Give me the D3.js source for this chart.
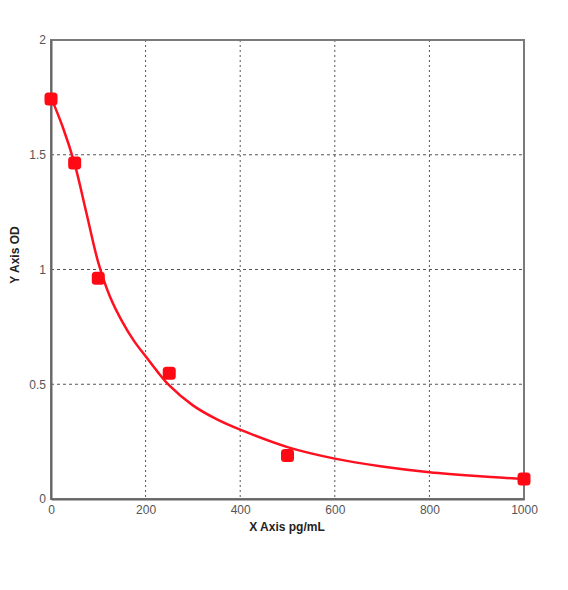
<!DOCTYPE html>
<html><head><meta charset="utf-8">
<script src="https://cdn.jsdelivr.net/npm/d3@7"></script>
<style>body{margin:0;background:#fff}svg{display:block}</style>
</head><body>
<script>
const xTicks = [0, 200, 400, 600, 800, 1000];
const yTicks = [0, 0.5, 1, 1.5, 2];
const pointX = [0, 50, 100, 250, 500, 1000];
const pointY = [1.743, 1.464, 0.962, 0.548, 0.19, 0.087];
const curveX = [0, 25, 50, 75, 100, 125, 150, 175, 200, 225, 250, 300, 350, 400, 500, 600, 700, 800, 900, 1000];
const curveY = [1.75, 1.62, 1.46, 1.245, 1.03, 0.88, 0.775, 0.69, 0.622, 0.555, 0.495, 0.408, 0.348, 0.302, 0.226, 0.176, 0.142, 0.117, 0.100, 0.087];

const W = 568, H = 590;
const m = {l: 51, r: 524, t: 40, b: 499};
const svg = d3.select("body").append("svg").attr("width", W).attr("height", H);
const x = d3.scaleLinear().domain([0, 1000]).range([m.l, m.r]);
const y = d3.scaleLinear().domain([0, 2]).range([m.b, m.t]);

// grid
svg.append("g").selectAll("line").data(xTicks.slice(1, -1)).join("line")
  .attr("x1", d => x(d)).attr("x2", d => x(d)).attr("y1", m.t).attr("y2", m.b)
  .attr("stroke", "#555").attr("stroke-width", 1).attr("stroke-dasharray", "2,3");
svg.append("g").selectAll("line").data(yTicks.slice(1, -1)).join("line")
  .attr("y1", d => y(d)).attr("y2", d => y(d)).attr("x1", m.l).attr("x2", m.r)
  .attr("stroke", "#555").attr("stroke-width", 1).attr("stroke-dasharray", "3,3");

// frame
svg.append("rect").attr("x", m.l).attr("y", m.t).attr("width", m.r - m.l).attr("height", m.b - m.t)
  .attr("fill", "none").attr("stroke", "#7a7a7a").attr("stroke-width", 2);

// axes
const xAxis = svg.append("g").attr("transform", `translate(0,${m.b})`)
  .call(d3.axisBottom(x).tickValues(xTicks).tickSize(0).tickPadding(6).tickFormat(d3.format("d")));
const yAxis = svg.append("g").attr("transform", `translate(${m.l},0)`)
  .call(d3.axisLeft(y).tickValues(yTicks).tickSize(0).tickPadding(5).tickFormat(d => String(d)));
[xAxis, yAxis].forEach(g => {
  g.select(".domain").attr("stroke", "#666").attr("stroke-width", 2);
  g.selectAll("text").attr("fill", "#555").attr("font-family", "Liberation Sans, Arial, sans-serif").attr("font-size", 12);
});

// curve
const line = d3.line().x(d => x(d[0])).y(d => y(d[1])).curve(d3.curveCatmullRom.alpha(0.5));
svg.append("path").datum(curveX.map((v, i) => [v, curveY[i]]))
  .attr("d", line).attr("fill", "none").attr("stroke", "#ff1020").attr("stroke-width", 2.5);

// points
svg.append("g").selectAll("rect").data(pointX.map((v, i) => [v, pointY[i]])).join("rect")
  .attr("x", d => x(d[0]) - 6.5).attr("y", d => y(d[1]) - 6.5)
  .attr("width", 13).attr("height", 13).attr("rx", 3.5)
  .attr("fill", "#ff0a14");

// labels
svg.append("text").attr("x", 287).attr("y", 531).attr("text-anchor", "middle")
  .attr("font-family", "Liberation Sans, Arial, sans-serif").attr("font-weight", "bold").attr("font-size", 12)
  .attr("fill", "#222").text("X Axis pg/mL");
svg.append("text").attr("transform", "translate(19,255) rotate(-90)").attr("text-anchor", "middle")
  .attr("font-family", "Liberation Sans, Arial, sans-serif").attr("font-weight", "bold").attr("font-size", 12)
  .attr("fill", "#222").text("Y Axis OD");
</script>
</body></html>
